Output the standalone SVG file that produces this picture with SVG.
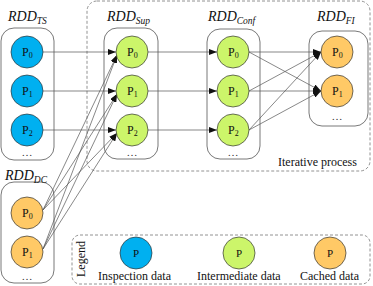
<svg xmlns="http://www.w3.org/2000/svg" width="373" height="286" viewBox="0 0 373 286">
<defs>
<style>
.box{fill:none;stroke:#555;stroke-width:0.8}
.dash{fill:none;stroke:#777;stroke-width:0.8;stroke-dasharray:3 2}
.blue{fill:#00B0F0;stroke:#333;stroke-width:0.7}
.green{fill:#CCF56A;stroke:#333;stroke-width:0.7}
.orange{fill:#FFC966;stroke:#333;stroke-width:0.7}
text{font-family:'Liberation Serif','Times New Roman','DejaVu Serif',serif;fill:#111}
.title{font-style:italic;font-size:14px}
.sub{font-size:9.5px}
.p{font-size:12px}
.ps{font-size:8px}
.lbl{font-size:12px}
.dots{font-size:11px;fill:#333;text-anchor:middle}
.ca{fill:none;stroke:#555;stroke-width:0.7;marker-end:url(#arr)}
</style>
<marker id="arr" viewBox="0 0 8 6" refX="8" refY="3" markerWidth="8" markerHeight="6" markerUnits="userSpaceOnUse" orient="auto">
<path d="M0,0 L8,3 L0,6 z" fill="#111"/>
</marker>
</defs>

<g id="iterative-region">
<rect class="dash" x="87" y="1" width="283" height="170" rx="10"/>
<text class="lbl" x="278" y="166">Iterative process</text>
</g>

<g id="connectors">
<line class="ca" x1="43" y1="52" x2="116" y2="52"/>
<line class="ca" x1="43" y1="91" x2="116" y2="91"/>
<line class="ca" x1="43" y1="130" x2="116" y2="130"/>
<line class="ca" x1="148" y1="52" x2="217" y2="52"/>
<line class="ca" x1="148" y1="91" x2="217" y2="91"/>
<line class="ca" x1="148" y1="130" x2="217" y2="130"/>
<line class="ca" x1="249" y1="52" x2="321" y2="52"/>
<line class="ca" x1="249" y1="52" x2="321" y2="91"/>
<line class="ca" x1="249" y1="91" x2="321" y2="52"/>
<line class="ca" x1="249" y1="91" x2="321" y2="91"/>
<line class="ca" x1="249" y1="130" x2="321" y2="52"/>
<line class="ca" x1="249" y1="130" x2="321" y2="91"/>
<line class="ca" x1="43" y1="210" x2="117" y2="55"/>
<line class="ca" x1="43" y1="210" x2="117" y2="94"/>
<line class="ca" x1="43" y1="210" x2="117" y2="133"/>
<line class="ca" x1="43" y1="249" x2="117" y2="55"/>
<line class="ca" x1="43" y1="249" x2="117" y2="94"/>
<line class="ca" x1="43" y1="249" x2="117" y2="133"/>
</g>

<g id="rdd-ts">
<rect class="box" x="1" y="28" width="53" height="132" rx="13"/>
<text class="title" x="8" y="21">RDD<tspan class="sub" dy="3">TS</tspan></text>
<circle class="blue" cx="27" cy="52" r="16"/>
<text class="p" x="22" y="56">P<tspan class="ps" dy="2">0</tspan></text>
<circle class="blue" cx="27" cy="91" r="16"/>
<text class="p" x="22" y="95">P<tspan class="ps" dy="2">1</tspan></text>
<circle class="blue" cx="27" cy="130" r="16"/>
<text class="p" x="22" y="134">P<tspan class="ps" dy="2">2</tspan></text>
<text class="dots" x="27" y="156">…</text>
</g>

<g id="rdd-sup">
<rect class="box" x="104" y="28" width="54" height="131" rx="13"/>
<text class="title" x="107" y="21">RDD<tspan class="sub" dy="3">Sup</tspan></text>
<circle class="green" cx="132" cy="52" r="16"/>
<text class="p" x="127" y="56">P<tspan class="ps" dy="2">0</tspan></text>
<circle class="green" cx="132" cy="91" r="16"/>
<text class="p" x="127" y="95">P<tspan class="ps" dy="2">1</tspan></text>
<circle class="green" cx="132" cy="130" r="16"/>
<text class="p" x="127" y="134">P<tspan class="ps" dy="2">2</tspan></text>
<text class="dots" x="132" y="156">…</text>
</g>

<g id="rdd-conf">
<rect class="box" x="207" y="29" width="53" height="130" rx="13"/>
<text class="title" x="208" y="21">RDD<tspan class="sub" dy="3">Conf</tspan></text>
<circle class="green" cx="233" cy="52" r="16"/>
<text class="p" x="228" y="56">P<tspan class="ps" dy="2">0</tspan></text>
<circle class="green" cx="233" cy="91" r="16"/>
<text class="p" x="228" y="95">P<tspan class="ps" dy="2">1</tspan></text>
<circle class="green" cx="233" cy="130" r="16"/>
<text class="p" x="228" y="134">P<tspan class="ps" dy="2">2</tspan></text>
<text class="dots" x="233" y="156">…</text>
</g>

<g id="rdd-fi">
<rect class="box" x="309" y="31" width="59" height="95" rx="13"/>
<text class="title" x="317" y="21">RDD<tspan class="sub" dy="3">FI</tspan></text>
<circle class="orange" cx="337" cy="52" r="16"/>
<text class="p" x="332" y="56">P<tspan class="ps" dy="2">0</tspan></text>
<circle class="orange" cx="337" cy="91" r="16"/>
<text class="p" x="332" y="95">P<tspan class="ps" dy="2">1</tspan></text>
<text class="dots" x="337" y="120">…</text>
</g>

<g id="rdd-dc">
<rect class="box" x="1" y="182" width="53" height="101" rx="13"/>
<text class="title" x="5" y="180">RDD<tspan class="sub" dy="3">DC</tspan></text>
<circle class="orange" cx="27" cy="213" r="16"/>
<text class="p" x="22" y="217">P<tspan class="ps" dy="2">0</tspan></text>
<circle class="orange" cx="27" cy="252" r="16"/>
<text class="p" x="22" y="256">P<tspan class="ps" dy="2">1</tspan></text>
<text class="dots" x="27" y="280">…</text>
</g>

<g id="legend">
<rect class="dash" x="72" y="235" width="298" height="49" rx="8"/>
<text class="lbl" transform="translate(85,259) rotate(-90)" text-anchor="middle">Legend</text>
<circle class="blue" cx="136" cy="253" r="16"/>
<text class="p" x="136" y="257" text-anchor="middle" style="font-size:11px">P</text>
<text class="lbl" x="98" y="280">Inspection data</text>
<circle class="green" cx="239" cy="253" r="16"/>
<text class="p" x="239" y="257" text-anchor="middle" style="font-size:11px">P</text>
<text class="lbl" x="197" y="280">Intermediate data</text>
<circle class="orange" cx="330" cy="253" r="16"/>
<text class="p" x="330" y="257" text-anchor="middle" style="font-size:11px">P</text>
<text class="lbl" x="300" y="280">Cached data</text>
</g>
</svg>
